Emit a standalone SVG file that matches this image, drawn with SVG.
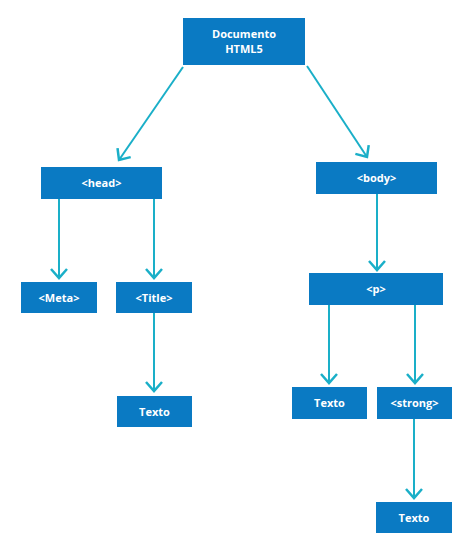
<svg xmlns="http://www.w3.org/2000/svg" width="474" height="545" viewBox="0 0 474 545">
<style>
.box{fill:#0a7ac3}
.lbl{font-family:"Open Sans",sans-serif;font-weight:bold;font-size:11px;fill:#ffffff;text-anchor:middle}
.con{stroke:#1aafc8;stroke-width:2;fill:none;marker-end:url(#arr)}
</style>
<defs>
<marker id="arr" markerUnits="userSpaceOnUse" markerWidth="24" markerHeight="24" refX="12" refY="12" orient="auto" viewBox="0 0 24 24">
<path d="M3,4 L12,12 L3,20" fill="none" stroke="#1aafc8" stroke-width="2.5" stroke-linejoin="miter"/>
</marker>
</defs>
<rect width="474" height="545" fill="#ffffff"/>
<g id="connectors">
<line class="con" x1="183" y1="67" x2="119" y2="160"/>
<line class="con" x1="307" y1="66" x2="367" y2="157"/>
<line class="con" x1="59" y1="199" x2="59" y2="278"/>
<line class="con" x1="154" y1="199" x2="154" y2="278"/>
<line class="con" x1="377" y1="194" x2="377" y2="270"/>
<line class="con" x1="154" y1="313" x2="154" y2="391"/>
<line class="con" x1="329" y1="305" x2="329" y2="383"/>
<line class="con" x1="415" y1="305" x2="415" y2="383"/>
<line class="con" x1="414" y1="419" x2="414" y2="498"/>
</g>
<g id="doc"><rect class="box" x="183" y="18" width="122" height="47"/><text class="lbl" x="244" y="38">Documento</text><text class="lbl" x="244" y="53">HTML5</text></g>
<g id="head"><rect class="box" x="41" y="167" width="121" height="32"/><text class="lbl" x="101.5" y="187">&lt;head&gt;</text></g>
<g id="body"><rect class="box" x="316" y="162" width="121" height="32"/><text class="lbl" x="376.5" y="182">&lt;body&gt;</text></g>
<g id="meta"><rect class="box" x="21" y="282" width="76" height="31"/><text class="lbl" x="59" y="301.5">&lt;Meta&gt;</text></g>
<g id="title"><rect class="box" x="116" y="282" width="76" height="31"/><text class="lbl" x="154" y="301.5">&lt;Title&gt;</text></g>
<g id="p"><rect class="box" x="309" y="273" width="134" height="32"/><text class="lbl" x="376" y="293">&lt;p&gt;</text></g>
<g id="texto1"><rect class="box" x="117" y="396" width="75" height="31"/><text class="lbl" x="154.5" y="415.5">Texto</text></g>
<g id="texto2"><rect class="box" x="292" y="387" width="75" height="32"/><text class="lbl" x="329.5" y="407">Texto</text></g>
<g id="strong"><rect class="box" x="377" y="387" width="75" height="32"/><text class="lbl" x="414.5" y="407">&lt;strong&gt;</text></g>
<g id="texto3"><rect class="box" x="376" y="502" width="76" height="31"/><text class="lbl" x="414" y="521.5">Texto</text></g>
</svg>
